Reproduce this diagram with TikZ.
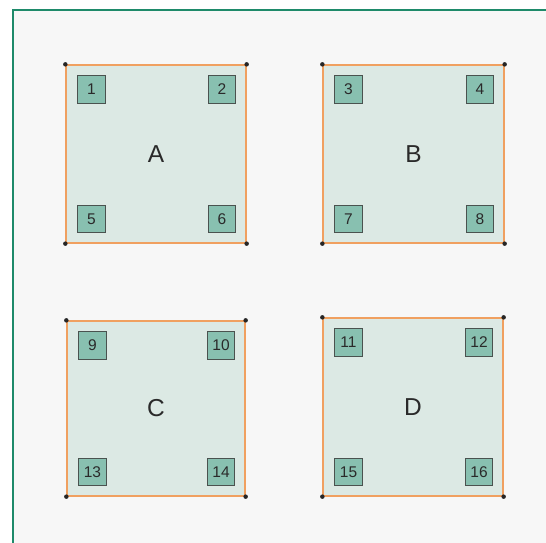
\documentclass[tikz,border=0pt]{standalone}
\usepackage{fontspec}
\setmainfont{Liberation Sans}
\begin{document}
\begin{tikzpicture}[x=1pt,y=-1pt,
  panelbox/.style={draw=orangeline, fill=panelfill, line width=1.3pt, inner sep=0pt},
  numbox/.style={draw=boxline, fill=boxfill, line width=1.1pt, minimum width=27.5pt, minimum height=27.5pt, inner sep=0pt, font=\fontsize{15.5}{15.5}\selectfont, text=textc},
  biglabel/.style={font=\fontsize{24.5}{24.5}\selectfont, text=textc},
  cornerdot/.style={circle, fill=black!85, inner sep=0pt, minimum size=4.5pt}]
\definecolor{orangeline}{HTML}{F0A060}
\definecolor{panelfill}{HTML}{DCE9E4}
\definecolor{boxline}{HTML}{4A524F}
\definecolor{boxfill}{HTML}{88C0B0}
\definecolor{textc}{HTML}{2A2A2A}
\definecolor{bgpanel}{HTML}{F7F7F7}
\definecolor{frameline}{HTML}{1E8A6A}
\useasboundingbox (0,0) rectangle (546,543);
\fill[white] (0,0) rectangle (546,543);
\fill[bgpanel] (13,10) rectangle (546,543);
\coordinate (fc) at (13,10);
\coordinate (fr) at (546,10);
\coordinate (fb) at (13,543);
\draw[frameline, line width=2.2pt] (fb) -- (fc) -- (fr);
\newcommand{\mypanel}[9]{%
  \node[panelbox, minimum width={#4-#2}, minimum height={#5-#3}] (p#1) at ({(#2+#4)/2},{(#3+#5)/2}) {};
  \node[biglabel] (l#1) at (p#1.center) {#6};
  \node[numbox] (b#1a) at ({#2+25.5},{#3+24.5}) {#7};
  \node[numbox] (b#1b) at ({#4-24},{#3+24.5}) {#8};
  \node[numbox] (b#1c) at ({#2+25.5},{#5-24}) {#9};
}
\newcommand{\myfinishbox}[4]{%
  \node[numbox] (b#1d) at ({#2-24},{#3-24}) {#4};
  \node[cornerdot] (d#1a) at (p#1.north west) {};
  \node[cornerdot] (d#1b) at (p#1.north east) {};
  \node[cornerdot] (d#1c) at (p#1.south west) {};
  \node[cornerdot] (d#1d) at (p#1.south east) {};
}
\mypanel{A}{66}{65}{246}{243}{A}{1}{2}{5}
\myfinishbox{A}{246}{243}{6}
\mypanel{B}{323}{65}{504}{243}{B}{3}{4}{7}
\myfinishbox{B}{504}{243}{8}
\mypanel{C}{67}{321}{245}{496}{C}{9}{10}{13}
\myfinishbox{C}{245}{496}{14}
\mypanel{D}{323}{318}{503}{496}{D}{11}{12}{15}
\myfinishbox{D}{503}{496}{16}
\end{tikzpicture}
\end{document}
